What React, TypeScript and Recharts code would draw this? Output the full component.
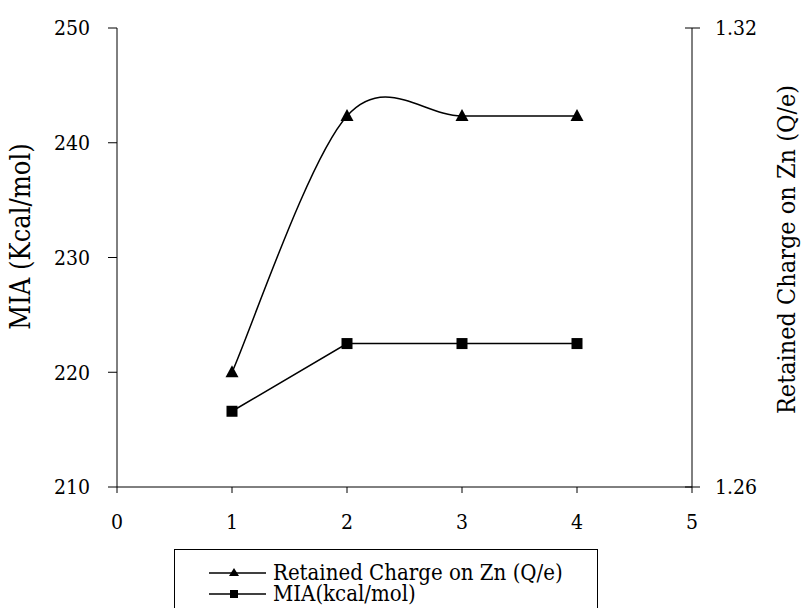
import React from 'react'
import { LineChart, Line, XAxis, YAxis, Legend } from 'recharts'

const xValues = [1, 2, 3, 4]
const miaValues = [216.6, 222.5, 222.5, 222.5]
const chargeValues = [1.275, 1.3085, 1.3085, 1.3085]

const xTicks = [0, 1, 2, 3, 4, 5]
const leftTicks = [210, 220, 230, 240, 250]
const rightTicks = [1.26, 1.32]

const chargeName = 'Retained Charge on Zn (Q/e)'
const miaName = 'MIA(kcal/mol)'

const data = xValues.map((x, i) => ({ x, mia: miaValues[i], charge: chargeValues[i] }))

const FONT = '"DejaVu Serif Condensed", "DejaVu Serif", serif'

// Excel-like smoothed line (uniform Catmull-Rom through the points)
const smoothCurve = (context: any) => {
  let pts: [number, number][] = []
  return {
    areaStart() {},
    areaEnd() {},
    lineStart() {
      pts = []
    },
    lineEnd() {
      const n = pts.length
      if (!n) return
      context.moveTo(pts[0][0], pts[0][1])
      for (let i = 0; i < n - 1; i++) {
        const p0 = pts[Math.max(i - 1, 0)]
        const p1 = pts[i]
        const p2 = pts[i + 1]
        const p3 = pts[Math.min(i + 2, n - 1)]
        context.bezierCurveTo(
          p1[0] + (p2[0] - p0[0]) / 6,
          p1[1] + (p2[1] - p0[1]) / 6,
          p2[0] - (p3[0] - p1[0]) / 6,
          p2[1] - (p3[1] - p1[1]) / 6,
          p2[0],
          p2[1]
        )
      }
    },
    point(x: number, y: number) {
      pts.push([+x, +y])
    },
  }
}

const TriangleDot = (props: any) => {
  const { cx, cy } = props
  if (cx == null || cy == null) return null
  return <polygon points={`${cx},${cy - 7} ${cx - 6.5},${cy + 5} ${cx + 6.5},${cy + 5}`} fill="#000" />
}

const SquareDot = (props: any) => {
  const { cx, cy } = props
  if (cx == null || cy == null) return null
  return <rect x={cx - 5.5} y={cy - 5.5} width={11} height={11} fill="#000" />
}

const RightTick = (props: any) => {
  const { x, y, payload } = props
  const axisX = x - 8 - 15
  return (
    <g>
      <line x1={axisX - 7} x2={axisX} y1={y} y2={y} stroke="#000" />
      <text x={x} y={y} dy="0.35em" textAnchor="start" fontFamily={FONT} fontSize={21} fill="#000">
        {payload.value.toFixed(2)}
      </text>
    </g>
  )
}

const LegendBox = () => (
  <div
    style={{
      width: 424,
      height: 70,
      border: '1px solid #000',
      background: '#fff',
      fontFamily: FONT,
      fontSize: 22,
      lineHeight: '21px',
      boxSizing: 'border-box',
      paddingTop: 12,
    }}
  >
    {[
      { name: chargeName, shape: 'tri' },
      { name: miaName, shape: 'sq' },
    ].map((item) => (
      <div key={item.name} style={{ display: 'flex', alignItems: 'center', height: 21 }}>
        <svg width={98} height={21} style={{ flex: 'none' }}>
          <line x1={34} x2={91} y1={11} y2={11} stroke="#000" strokeWidth={1.5} />
          {item.shape === 'tri' ? (
            <polygon points="59,6 54,14 64,14" fill="#000" />
          ) : (
            <rect x={55} y={7} width={8} height={8} fill="#000" />
          )}
        </svg>
        <span style={{ whiteSpace: 'nowrap' }}>{item.name}</span>
      </div>
    ))}
  </div>
)

export default function App() {
  return (
    <div style={{ position: 'absolute', left: 0, top: 0, background: '#fff' }}>
      <LineChart width={803} height={608} data={data} margin={{ top: 28, right: 0, bottom: 0, left: 0 }}>
        <XAxis
          dataKey="x"
          type="number"
          domain={[0, 5]}
          ticks={xTicks}
          height={121}
          tickSize={6}
          tickMargin={21}
          stroke="#000"
          tick={{ fill: '#000', fontSize: 21, fontFamily: FONT }}
        />
        <YAxis
          yAxisId="left"
          orientation="left"
          domain={[210, 250]}
          ticks={leftTicks}
          width={117}
          tickSize={9}
          tickMargin={18}
          stroke="#000"
          tick={{ fill: '#000', fontSize: 21, fontFamily: FONT }}
          label={{
            value: 'MIA (Kcal/mol)',
            angle: -90,
            position: 'insideLeft',
            dx: 15,
            dy: -21,
            style: { textAnchor: 'middle', fill: '#000', fontSize: 27, fontFamily: FONT },
          }}
        />
        <YAxis
          yAxisId="right"
          orientation="right"
          domain={[1.26, 1.32]}
          ticks={rightTicks}
          width={111}
          tickSize={8}
          tickMargin={15}
          stroke="#000"
          tick={<RightTick />}
          label={{
            value: 'Retained Charge on Zn (Q/e)',
            angle: -90,
            position: 'insideRight',
            dx: -12,
            dy: -8,
            style: { textAnchor: 'middle', fill: '#000', fontSize: 25, fontFamily: FONT },
          }}
        />
        <Legend
          layout="horizontal"
          verticalAlign="middle"
          align="center"
          wrapperStyle={{ left: 174, top: 549, width: 424 }}
          content={<LegendBox />}
        />
        <Line
          yAxisId="right"
          dataKey="charge"
          name={chargeName}
          type={smoothCurve as any}
          stroke="#000"
          strokeWidth={1.5}
          dot={<TriangleDot />}
          activeDot={false}
          isAnimationActive={false}
        />
        <Line
          yAxisId="left"
          dataKey="mia"
          name={miaName}
          type="linear"
          stroke="#000"
          strokeWidth={1.5}
          dot={<SquareDot />}
          activeDot={false}
          isAnimationActive={false}
        />
      </LineChart>
    </div>
  )
}
